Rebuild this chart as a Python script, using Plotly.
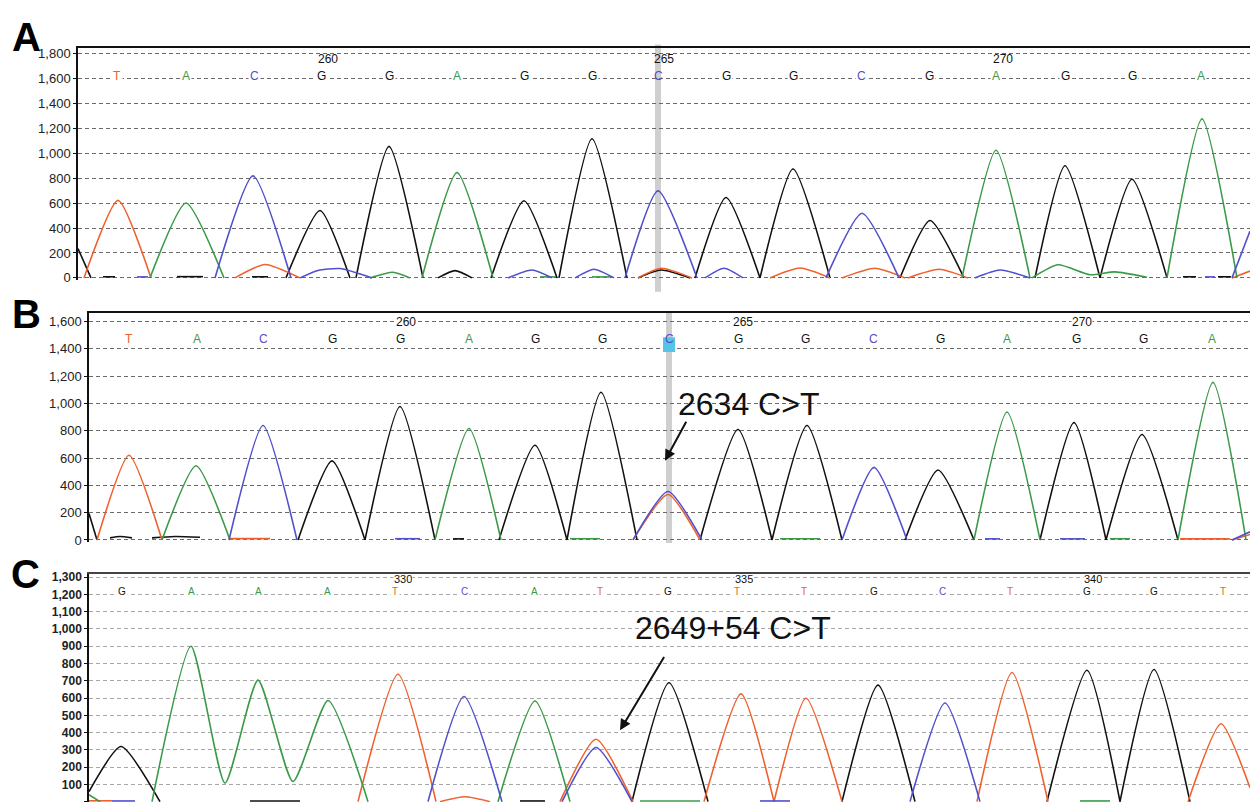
import plotly.graph_objects as go

W, H = 1250, 808
RED, GREEN, BLUE, BLACK = '#f0602c', '#3a9a48', '#5050cc', '#111111'
BASE_COLOR = {'T': RED, 'A': GREEN, 'C': BLUE, 'G': BLACK}
FONT = 'Liberation Sans, Arial, sans-serif'

# ---------------- Panel A (x = scan position, y = signal RFU) ----------------
A_black = [[(78, 235), (91, 0)], [(286, 0), (320, 540), (350, 0)], [(356, 0), (389, 1055), (423, 0)],
           [(438, 0), (455, 58), (472, 0)], [(491, 0), (524, 619), (557, 0)], [(559, 0), (592, 1116), (627, 0)],
           [(638, 0), (661, 63), (690, 0)], [(695, 0), (726, 645), (760, 0)], [(760, 0), (793, 873), (830, 0)],
           [(900, 0), (930, 460), (964, 0)], [(1035, 0), (1065, 899), (1100, 0)], [(1100, 0), (1132, 791), (1167, 0)],
           [(103, 9), (115, 9)], [(177, 10), (203, 10)], [(252, 9), (268, 9)], [(1183, 9), (1196, 9)], [(1218, 9), (1231, 9)]]
A_red = [[(84, 0), (118, 622), (151, 0)], [(235, 0), (265, 108), (300, 0)], [(638, 0), (661, 77), (692, 0)],
         [(770, 0), (800, 79), (830, 0)], [(842, 0), (875, 77), (905, 0)], [(908, 0), (939, 69), (968, 0)],
         [(1232, 0), (1250, 55)]]
A_green = [[(150, 0), (186, 601), (224, 0)], [(370, 0), (393, 45), (410, 0)], [(422, 0), (457, 844), (493, 0)],
           [(962, 0), (996, 1024), (1030, 0)], [(1032, 0), (1058, 105), (1090, 25), (1115, 48), (1147, 5)],
           [(1167, 0), (1202, 1275), (1237, 0)], [(540, 8), (556, 8)], [(592, 8), (612, 8)]]
A_blue = [[(215, 0), (253, 818), (291, 0)], [(300, 0), (318, 60), (340, 75), (372, 0)], [(508, 0), (532, 63), (552, 0)],
          [(575, 0), (594, 69), (614, 0)], [(625, 0), (658, 698), (697, 0)], [(705, 0), (724, 77), (743, 0)],
          [(826, 0), (862, 518), (899, 0)], [(975, 0), (1000, 63), (1030, 0)], [(1232, 0), (1250, 375)],
          [(137, 8), (148, 8)], [(1205, 8), (1215, 8)]]
A_bases = "TACGGAGGCGGCGAGGA"
A_base_pos = [117, 186, 254, 321, 389, 457, 524, 592, 658, 726, 793, 861, 929, 996, 1065, 1132, 1201]
A_numbers = [(328, '260'), (664, '265'), (1003, '270')]
A_yticks = list(range(0, 1801, 200))

# ---------------- Panel B ----------------
B_black = [[(89, 193), (97, 0)], [(298, 0), (332, 579), (365, 0)], [(365, 0), (400, 977), (435, 0)],
           [(499, 0), (535, 693), (567, 0)], [(567, 0), (601, 1081), (637, 0)], [(700, 0), (738, 809), (772, 0)],
           [(772, 0), (807, 838), (842, 0)], [(905, 0), (938, 512), (974, 0)], [(1040, 0), (1074, 859), (1106, 0)],
           [(1106, 0), (1142, 772), (1178, 0)], [(110, 15), (120, 25), (132, 15)], [(152, 15), (175, 25), (200, 20)],
           [(453, 8), (464, 8)]]
B_red = [[(97, 0), (129, 620), (162, 0)], [(633, 0), (668, 333), (700, 0)], [(1232, 0), (1250, 40)],
         [(229, 10), (270, 10)], [(1180, 8), (1230, 8)]]
B_green = [[(162, 0), (196, 543), (230, 0)], [(435, 0), (469, 816), (501, 0)], [(974, 0), (1007, 937), (1040, 0)],
           [(1178, 0), (1213, 1154), (1246, 0)], [(570, 9), (600, 9)], [(780, 9), (820, 9)], [(1110, 9), (1130, 9)]]
B_blue = [[(229, 0), (263, 838), (297, 0)], [(633, 0), (668, 355), (702, 0)], [(842, 0), (874, 531), (907, 0)],
          [(1232, 0), (1250, 60)], [(395, 9), (420, 9)], [(1060, 8), (1085, 8)], [(985, 8), (1000, 8)]]
B_bases = "TACGGAGGCGGCGAGGA"
B_base_pos = [129, 197, 263, 332, 400, 469, 535, 602, 669, 738, 805, 873, 940, 1007, 1076, 1143, 1212]
B_numbers = [(406, '260'), (743, '265'), (1082, '270')]
B_yticks = list(range(0, 1601, 200))

# ---------------- Panel C ----------------
C_black = [[(89, 58), (121, 319), (160, 0)], [(632, 0), (669, 689), (708, 0)], [(842, 0), (878, 675), (915, 0)],
           [(1047, 0), (1087, 761), (1120, 0)], [(1120, 0), (1154, 765), (1190, 0)],
           [(250, 4), (300, 4)], [(520, 4), (545, 4)]]
C_red = [[(358, 0), (398, 738), (436, 0)], [(440, 0), (465, 28), (490, 0)], [(560, 0), (596, 361), (633, 0)],
         [(704, 0), (741, 624), (774, 0)], [(774, 0), (806, 599), (842, 0)], [(977, 0), (1012, 748), (1048, 0)],
         [(1188, 0), (1221, 451), (1250, 80)], [(89, 5), (112, 5)]]
C_green = [[(89, 40), (100, 0)], [(152, 0), (191, 900), (225, 108), (258, 704), (293, 117), (328, 586), (368, 0)],
           [(498, 0), (535, 583), (570, 0)], [(640, 4), (700, 4)], [(1080, 4), (1110, 4)]]
C_blue = [[(428, 0), (464, 609), (502, 0)], [(562, 0), (596, 314), (632, 0)], [(910, 0), (945, 571), (980, 0)],
          [(112, 4), (135, 4)], [(760, 4), (790, 4)]]
C_bases = "GAAATCATGTTGCTGGT"
C_base_pos = [122, 191, 258, 327, 395, 464, 534, 600, 668, 737, 804, 874, 942, 1010, 1087, 1154, 1223]
C_numbers = [(403, '330'), (744, '335'), (1093, '340')]
C_yticks = list(range(0, 1301, 100))

VARIANT_A = 658
VARIANT_B = 669

fig = go.Figure()


def add_channel(segs, color, xa, ya):
    xs, ys = [], []
    for seg in segs:
        for x, y in seg:
            xs.append(x)
            ys.append(y)
        xs.append(None)
        ys.append(None)
    fig.add_trace(go.Scatter(x=xs, y=ys, mode='lines', xaxis=xa, yaxis=ya, showlegend=False,
                             hoverinfo='skip', line=dict(color=color, width=1.6, shape='spline', smoothing=0.6)))


panels = [
    ('x', 'y', [A_black, A_red, A_green, A_blue]),
    ('x2', 'y2', [B_black, B_red, B_green, B_blue]),
    ('x3', 'y3', [C_black, C_red, C_green, C_blue]),
]
for xa, ya, chans in panels:
    for segs, col in zip(chans, [BLACK, RED, GREEN, BLUE]):
        add_channel(segs, col, xa, ya)


def py(p):
    return 1 - p / H


axis_common = dict(showgrid=False, zeroline=False, showticklabels=False, ticks='', side='top',
                   showline=True, linecolor='#111', linewidth=2, fixedrange=True)
yax_common = dict(showline=True, linecolor='#111', linewidth=1.5, zeroline=False, ticks='outside', ticklen=3,
                  tickcolor='#111', showgrid=True, griddash='4px,3px', gridwidth=1, tickformat=',d', fixedrange=True)

fig.update_layout(
    width=W, height=H, margin=dict(l=0, r=0, t=0, b=0), paper_bgcolor='white', plot_bgcolor='white',
    font=dict(family=FONT, color='#222'),
    xaxis=dict(domain=[78 / W, 1], range=[78, 1250], anchor='y', **axis_common),
    yaxis=dict(domain=[py(280), py(46)], range=[-15.9, 1839.6], anchor='x', tickvals=A_yticks,
               gridcolor='#6a6a6a', tickfont=dict(size=13, color='#222'), **yax_common),
    xaxis2=dict(domain=[89 / W, 1], range=[89, 1250], anchor='y2', **axis_common),
    yaxis2=dict(domain=[py(545), py(313)], range=[-14.5, 1665.2], anchor='x2', tickvals=B_yticks,
                gridcolor='#6a6a6a', tickfont=dict(size=13, color='#222'), **yax_common),
    xaxis3=dict(domain=[89 / W, 1], range=[89, 1250], anchor='y3', **axis_common),
    yaxis3=dict(domain=[0, py(577)], range=[-2, 1321], anchor='x3', tickvals=C_yticks,
                gridcolor='#a8a8a8', tickfont=dict(size=12, color='#222', weight='bold'), **yax_common),
)
fig.layout.xaxis3.linecolor = '#444'

# highlight bars at the variant position
fig.add_shape(type='rect', xref='x', yref='paper', x0=VARIANT_A - 3, x1=VARIANT_A + 3, y0=py(292), y1=py(42),
              fillcolor='#cfcfcf', line_width=0, layer='between')
fig.add_shape(type='rect', xref='x2', yref='paper', x0=VARIANT_B - 3, x1=VARIANT_B + 3, y0=py(546), y1=py(312),
              fillcolor='#cfcfcf', line_width=0, layer='between')
fig.add_shape(type='rect', xref='x2', yref='y2', x0=VARIANT_B - 6, x1=VARIANT_B + 6, y0=1376, y1=1484,
              fillcolor='#55c4e6', line_width=0, layer='above')

ann = []


def base_row(bases, pos, xa, ya, yv, size, bg=True, skip_bg=None):
    for b, p in zip(bases, pos):
        use_bg = bg and p != skip_bg
        ann.append(dict(x=p, y=yv, xref=xa, yref=ya, text=b, showarrow=False,
                        font=dict(size=size, color=BASE_COLOR[b], family=FONT),
                        bgcolor='white' if use_bg else None, borderpad=1))


def num_row(nums, xa, ya, yv, size, bg=True, h=None):
    for p, t in nums:
        d = dict(x=p, y=yv, xref=xa, yref=ya, text=t, showarrow=False,
                 font=dict(size=size, color='#111', family=FONT),
                 bgcolor='white' if bg else None, borderpad=0)
        if h:
            d['height'] = h
        ann.append(d)


base_row(A_bases, A_base_pos, 'x', 'y', 1615, 12, skip_bg=VARIANT_A)
num_row(A_numbers, 'x', 'y', 1752, 12, bg=False)
base_row(B_bases, B_base_pos, 'x2', 'y2', 1470, 12, bg=False)
num_row(B_numbers, 'x2', 'y2', 1593, 12, h=10)
base_row(C_bases, C_base_pos, 'x3', 'y3', 1218, 10)
num_row(C_numbers, 'x3', 'y3', 1290, 11, h=8)

# mutation annotations
ann.append(dict(x=748, y=999, xref='x2', yref='y2', text='2634 C>T', showarrow=False,
                font=dict(size=32, color='#111', family=FONT)))
ann.append(dict(x=665, y=579, ax=687, ay=876, xref='x2', yref='y2', axref='x2', ayref='y2', text='',
                showarrow=True, arrowhead=2, arrowsize=1.1, arrowwidth=2, arrowcolor='#111'))
ann.append(dict(x=733, y=1007, xref='x3', yref='y3', text='2649+54 C>T', showarrow=False,
                font=dict(size=32, color='#111', family=FONT)))
ann.append(dict(x=620, y=413, ax=665, ay=847, xref='x3', yref='y3', axref='x3', ayref='y3', text='',
                showarrow=True, arrowhead=2, arrowsize=1.1, arrowwidth=2, arrowcolor='#111'))

# panel letters
for t, cx, cy in [('A', 26, 34), ('B', 26, 315), ('C', 25, 577)]:
    ann.append(dict(x=cx / W, y=py(cy), xref='paper', yref='paper', text='<b>%s</b>' % t, showarrow=False,
                    font=dict(size=40, color='#000', family=FONT), xanchor='center', yanchor='middle'))

fig.update_layout(annotations=ann)
fig.write_html('out.html', config={'displayModeBar': False},
               post_script="document.body.style.margin='0px';document.body.style.overflow='hidden';")
